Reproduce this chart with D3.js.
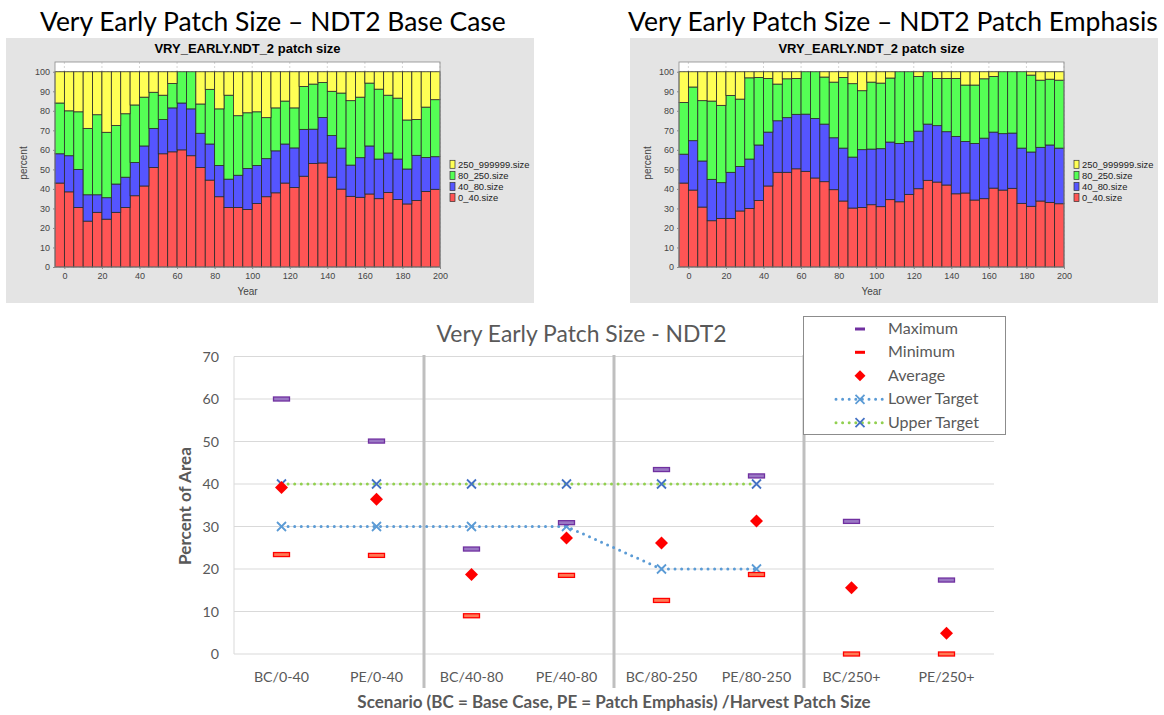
<!DOCTYPE html>
<html>
<head>
<meta charset="utf-8">
<script src="https://cdn.jsdelivr.net/npm/d3@7"></script>
<style>
body { margin: 0; background: #fff; }
svg { display: block; }
</style>
</head>
<body>
<div id="chart"></div>
<script>
// top charts: percent of area by patch size class, every 5 years
const years = [0, 5, 10, 15, 20, 25, 30, 35, 40, 45, 50, 55, 60, 65, 70, 75, 80, 85, 90, 95, 100,
	105, 110, 115, 120, 125, 130, 135, 140, 145, 150, 155, 160, 165, 170, 175, 180, 185, 190, 195, 200];
const sizeClasses = ["0_40.size", "40_80.size", "80_250.size", "250_999999.size"];

// base case
const bc0_40 = [43, 38.5, 30.5, 23.5, 28, 24.5, 28, 30.5, 36.5, 41.5, 51, 58, 59, 60, 57, 51, 44.5, 36, 30.5, 30.5, 29.5,
	32.5, 36, 38, 43, 40.7, 46.5, 53, 53.3, 46, 39.9, 36.2, 35.7, 37.4, 35, 38.2, 34.6, 32.3, 34.1, 38.7, 39.8];
const bc40_80 = [15, 18.5, 19.5, 13.5, 9, 11, 14.5, 15.5, 17, 20.5, 20, 17.5, 22.5, 24, 24, 17.5, 18.5, 16, 14.5, 16.5, 21,
	19.5, 19.5, 21.5, 20, 20.3, 24, 17.6, 23.3, 21.3, 21, 16, 20.3, 24.6, 20.3, 20.2, 20.7, 17.9, 23.1, 17.4, 16.7];
const bc80_250 = [26, 23, 29.5, 34, 41, 33.5, 30, 32.5, 29.5, 25, 18.5, 12.5, 12.5, 16, 19, 15, 28, 29, 43, 30.5, 28.5,
	27.5, 21, 22, 22, 20.5, 22, 23.1, 17.9, 22.7, 28.2, 33, 31, 32.2, 35.8, 29.6, 31.2, 25.1, 18.4, 25.8, 29.2];
const bc250plus = [16, 20, 20.5, 29, 22, 31, 27.5, 21.5, 17, 13, 10.5, 12, 6, 0, 0, 16.5, 9, 19, 12, 22.5, 21,
	20.5, 23.5, 18.5, 15, 18.5, 7.5, 6.3, 5.5, 10, 10.9, 14.8, 13, 5.8, 8.9, 12, 13.5, 24.7, 24.4, 18.1, 14.3];

// patch emphasis
const pe0_40 = [43, 39.4, 30.7, 23.7, 24.9, 24.9, 28.7, 30, 34.1, 41.5, 48.5, 48.5, 50.3, 49, 45.6, 43.7, 39.6, 33.8, 30.2, 30.5, 31.9,
	30.9, 34.5, 33.4, 37.2, 40.1, 44.4, 43.5, 42, 37.5, 37.9, 34.3, 35, 40.4, 39.4, 40.3, 32.6, 31.1, 33.8, 33.1, 32.4];
const pe40_80 = [14.8, 25.3, 23.6, 21.2, 18.3, 23.6, 22.8, 25.3, 28.4, 27.6, 26.4, 28, 27.9, 29.3, 30.5, 29.5, 26.6, 27.1, 26.1, 29.6, 28.5,
	29.7, 29.5, 29.9, 27, 29.5, 28.8, 28.9, 27.3, 29.4, 26.4, 29, 31, 28.7, 28.9, 28.3, 28.3, 27.8, 27.5, 29.4, 28.5];
const pe80_250 = [26.5, 27.5, 30.9, 40.1, 39.6, 39.4, 34.5, 41.6, 34.6, 27.5, 18.8, 19.9, 18.4, 21.7, 23.9, 24.1, 28.5, 36.2, 37.6, 30.2, 34.3,
	33.6, 32.8, 36.7, 35.8, 28, 26.8, 24.2, 27.3, 29.7, 28.9, 29.9, 30.4, 28.5, 31.7, 31.4, 39.1, 39.4, 34.4, 33.7, 34.8];
const pe250plus = [15.7, 7.8, 14.8, 15, 17.2, 12.1, 14, 3.1, 2.9, 3.4, 6.3, 3.6, 3.4, 0, 0, 2.7, 5.3, 2.9, 6.1, 9.7, 5.3,
	5.8, 3.2, 0, 0, 2.4, 0, 3.4, 3.4, 3.4, 6.8, 6.8, 3.6, 2.4, 0, 0, 0, 1.7, 4.3, 3.8, 4.3];

// bottom chart
const scenarios = ["BC/0-40", "PE/0-40", "BC/40-80", "PE/40-80", "BC/80-250", "PE/80-250", "BC/250+", "PE/250+"];
const maxVals = [60, 50.1, 24.7, 30.9, 43.4, 41.9, 31.2, 17.4];
const minVals = [23.4, 23.2, 9, 18.5, 12.6, 18.7, 0, 0];
const avgVals = [39.2, 36.4, 18.7, 27.3, 26.1, 31.3, 15.6, 4.9];
const lowerTarget = [30, 30, 30, 30, 20, 20, null, null];
const upperTarget = [40, 40, 40, 40, 40, 40, null, null];
const yTicks = [0, 10, 20, 30, 40, 50, 60, 70];

const width = 1164, height = 715;
const office = "Lato, 'Open Sans', sans-serif";
const java = "'Liberation Sans', Arial, sans-serif";

let svg = d3.select("#chart").append("svg")
	.attr("width", width)
	.attr("height", height);

// make a text element match a measured width
function fitWidth(sel, w) {
	let len = sel.node().getComputedTextLength();
	let fs = parseFloat(sel.attr("font-size"));
	sel.attr("font-size", fs * w / len);
	return fs * w / len;
}

function stackChart(dx, heading, headingX, headingW, series) {
	let g = svg.append("g").attr("transform", `translate(${dx},0)`);

	g.append("text")
		.attr("x", headingX - dx).attr("y", 31)
		.attr("font-family", office).attr("font-size", 26)
		.attr("fill", "#000")
		.text(heading)
		.call(fitWidth, headingW);

	g.append("rect")
		.attr("x", 6).attr("y", 38).attr("width", 528).attr("height", 265)
		.attr("fill", "#e4e4e4");

	let x = d3.scaleLinear().domain([-5, 200]).range([55, 440]);
	let y = d3.scaleLinear().domain([0, 105]).range([267, 62]);

	g.append("text")
		.attr("x", (55 + 440) / 2).attr("y", 53)
		.attr("text-anchor", "middle")
		.attr("font-family", java).attr("font-size", 13).attr("font-weight", "bold")
		.text("VRY_EARLY.NDT_2 patch size");

	g.append("rect")
		.attr("x", 55).attr("y", 62).attr("width", 385).attr("height", 205)
		.attr("fill", "#fff");

	let xTicks = d3.range(0, 201, 20);
	g.append("g").selectAll("line").data(xTicks).enter().append("line")
		.attr("x1", d => x(d)).attr("x2", d => x(d))
		.attr("y1", 62).attr("y2", 267)
		.attr("stroke", "#c4c4c4").attr("stroke-dasharray", "2,2").attr("stroke-width", 0.7);
	g.append("g").selectAll("line").data(d3.range(0, 101, 10)).enter().append("line")
		.attr("x1", 55).attr("x2", 440)
		.attr("y1", d => y(d)).attr("y2", d => y(d))
		.attr("stroke", "#c4c4c4").attr("stroke-dasharray", "2,2").attr("stroke-width", 0.7);

	let rows = years.map((yr, i) => {
		let r = { year: yr };
		sizeClasses.forEach((k, j) => r[k] = series[j][i]);
		return r;
	});
	let stacked = d3.stack().keys(sizeClasses)(rows);
	let colours = ["#ff5555", "#5555ff", "#55ff55", "#ffff55"];

	g.append("g").selectAll("g").data(stacked).enter().append("g")
		.attr("fill", (d, i) => colours[i])
		.selectAll("rect").data(d => d).enter().append("rect")
		.attr("x", d => x(d.data.year - 5))
		.attr("width", d => x(d.data.year) - x(d.data.year - 5))
		.attr("y", d => y(d[1]))
		.attr("height", d => y(d[0]) - y(d[1]))
		.attr("stroke", "#2a2a2a").attr("stroke-width", 0.8);

	g.append("rect")
		.attr("x", 55).attr("y", 62).attr("width", 385).attr("height", 205)
		.attr("fill", "none").attr("stroke", "#8a8a8a").attr("stroke-width", 0.8);

	let xAxis = g.append("g").attr("transform", "translate(0,267)")
		.call(d3.axisBottom(x).tickValues(xTicks).tickSize(2).tickPadding(4));
	let yAxis = g.append("g").attr("transform", "translate(55,0)")
		.call(d3.axisLeft(y).tickValues(d3.range(0, 101, 10)).tickSize(2).tickPadding(3));
	[xAxis, yAxis].forEach(a => {
		a.select(".domain").remove();
		a.selectAll("line").attr("stroke", "#888");
		a.selectAll("text").attr("font-family", java).attr("font-size", 9).attr("fill", "#444");
	});

	g.append("text")
		.attr("x", (55 + 440) / 2).attr("y", 295)
		.attr("text-anchor", "middle")
		.attr("font-family", java).attr("font-size", 10).attr("fill", "#444")
		.text("Year");
	g.append("text")
		.attr("transform", "translate(26.5,163) rotate(-90)")
		.attr("text-anchor", "middle")
		.attr("font-family", java).attr("font-size", 10).attr("fill", "#444")
		.text("percent");

	let legend = g.append("g").selectAll("g").data(sizeClasses.slice().reverse()).enter().append("g")
		.attr("transform", (d, i) => `translate(450,${164.3 + i * 11.1})`);
	legend.append("rect")
		.attr("x", 0).attr("y", -4).attr("width", 5).attr("height", 8)
		.attr("fill", d => colours[sizeClasses.indexOf(d)])
		.attr("stroke", "#333").attr("stroke-width", 0.7);
	legend.append("text")
		.attr("x", 8).attr("y", 3.2)
		.attr("font-family", java).attr("font-size", 9.4).attr("fill", "#222")
		.text(d => d);
}

stackChart(0, "Very Early Patch Size \u2013 NDT2 Base Case", 40, 466, [bc0_40, bc40_80, bc80_250, bc250plus]);
stackChart(624, "Very Early Patch Size \u2013 NDT2 Patch Emphasis", 628, 530, [pe0_40, pe40_80, pe80_250, pe250plus]);

// bottom summary chart
let bx = d3.scaleBand().domain(scenarios).range([234, 994]);
let by = d3.scaleLinear().domain([0, 70]).range([654, 356.5]);
let grey = "#595959";
let b = svg.append("g");

b.append("text")
	.attr("x", 581.5).attr("y", 342)
	.attr("text-anchor", "middle")
	.attr("font-family", office).attr("font-size", 20).attr("fill", grey)
	.text("Very Early Patch Size - NDT2")
	.call(fitWidth, 290);

b.append("g").selectAll("line").data(yTicks).enter().append("line")
	.attr("x1", 234).attr("x2", 994)
	.attr("y1", d => by(d)).attr("y2", d => by(d))
	.attr("stroke", "#d9d9d9").attr("stroke-width", 1);
b.append("line")
	.attr("x1", 234).attr("x2", 234).attr("y1", by(70)).attr("y2", by(0))
	.attr("stroke", "#d9d9d9");

// group separators
b.append("g").selectAll("line").data([2, 4, 6]).enter().append("line")
	.attr("x1", d => bx(scenarios[d])).attr("x2", d => bx(scenarios[d]))
	.attr("y1", 355).attr("y2", 688)
	.attr("stroke", "#bfbfbf").attr("stroke-width", 3);

let yLab = b.append("g").selectAll("text").data(yTicks).enter().append("text")
	.attr("x", 219).attr("y", d => by(d) + 5)
	.attr("text-anchor", "end")
	.attr("font-family", office).attr("font-size", 14).attr("fill", grey)
	.text(d => d);

let catLab = b.append("g").selectAll("text").data(scenarios).enter().append("text")
	.attr("x", d => bx(d) + bx.bandwidth() / 2).attr("y", 681.5)
	.attr("text-anchor", "middle")
	.attr("font-family", office).attr("font-size", 14).attr("fill", grey)
	.text(d => d);
let labSize = 14 * 71.7 / catLab.filter(d => d === "BC/80-250").node().getComputedTextLength();
catLab.attr("font-size", labSize);
yLab.attr("font-size", labSize);

b.append("text")
	.attr("x", 614).attr("y", 708)
	.attr("text-anchor", "middle")
	.attr("font-family", office).attr("font-size", 14).attr("font-weight", "bold").attr("fill", grey)
	.text("Scenario (BC = Base Case, PE = Patch Emphasis) /Harvest Patch Size")
	.call(fitWidth, 514);
b.append("text")
	.attr("transform", "translate(191,506) rotate(-90)")
	.attr("text-anchor", "middle")
	.attr("font-family", office).attr("font-size", 15).attr("font-weight", "bold").attr("fill", grey)
	.text("Percent of Area")
	.call(fitWidth, 118);

let cx = i => bx(scenarios[i]) + bx.bandwidth() / 2;
let line = d3.line().defined(d => d != null).x((d, i) => cx(i)).y(d => by(d));
let xPath = "M-4.5,-4.5L4.5,4.5M-4.5,4.5L4.5,-4.5";
let diamond = d3.symbol(d3.symbolSquare, 84)();

function targetSeries(vals, lineColour, markColour) {
	b.append("path").datum(vals)
		.attr("d", line)
		.attr("fill", "none").attr("stroke", lineColour)
		.attr("stroke-width", 3).attr("stroke-linecap", "round").attr("stroke-dasharray", "0,6.6");
	b.append("g").selectAll("path").data(vals).enter().filter(d => d != null).append("path")
		.attr("transform", (d, i) => `translate(${cx(i)},${by(d)})`)
		.attr("d", xPath)
		.attr("stroke", markColour).attr("stroke-width", 1.8).attr("fill", "none");
}
targetSeries(lowerTarget, "#5b9bd5", "#5b9bd5");
targetSeries(upperTarget, "#92d050", "#4472c4");

function dashSeries(vals, stroke, fill) {
	b.append("g").selectAll("rect").data(vals).enter().append("rect")
		.attr("x", (d, i) => cx(i) - 8).attr("y", d => by(d) - 2)
		.attr("width", 16).attr("height", 4)
		.attr("fill", fill).attr("stroke", stroke).attr("stroke-width", 1.3);
}
dashSeries(maxVals, "#7030a0", "#9a78c4");
dashSeries(minVals, "#ff0000", "#ff7a55");

b.append("g").selectAll("path").data(avgVals).enter().append("path")
	.attr("transform", (d, i) => `translate(${cx(i)},${by(d)}) rotate(45)`)
	.attr("d", diamond)
	.attr("fill", "#ff0000");

// legend
let lg = b.append("g");
lg.append("rect")
	.attr("x", 803.5).attr("y", 316.5).attr("width", 202).attr("height", 118)
	.attr("fill", "#fff").attr("stroke", "#8c8c8c").attr("stroke-width", 1);
let entries = ["Maximum", "Minimum", "Average", "Lower Target", "Upper Target"];
let ey = [329, 352.3, 375.7, 399.3, 422.7];
let eTxt = lg.selectAll("text").data(entries).enter().append("text")
	.attr("x", 888).attr("y", (d, i) => ey[i] + 5)
	.attr("font-family", office).attr("font-size", 14).attr("fill", grey)
	.text(d => d);
let eSize = 14 * 91 / eTxt.filter(d => d === "Upper Target").node().getComputedTextLength();
eTxt.attr("font-size", eSize);

lg.append("rect").attr("x", 855).attr("y", ey[0] - 1.5).attr("width", 10).attr("height", 3).attr("fill", "#7030a0");
lg.append("rect").attr("x", 855).attr("y", ey[1] - 1.5).attr("width", 10).attr("height", 3).attr("fill", "#ff0000");
lg.append("path").attr("transform", `translate(860,${ey[2]}) rotate(45)`).attr("d", d3.symbol(d3.symbolSquare, 60)()).attr("fill", "#ff0000");
[[ey[3], "#5b9bd5", "#5b9bd5"], [ey[4], "#92d050", "#4472c4"]].forEach(([yy, lc, mc]) => {
	lg.append("line").attr("x1", 836).attr("x2", 884).attr("y1", yy).attr("y2", yy)
		.attr("stroke", lc).attr("stroke-width", 3).attr("stroke-linecap", "round").attr("stroke-dasharray", "0,6.6");
	lg.append("path").attr("transform", `translate(860,${yy})`).attr("d", xPath)
		.attr("stroke", mc).attr("stroke-width", 1.8).attr("fill", "none");
});
</script>
</body>
</html>
